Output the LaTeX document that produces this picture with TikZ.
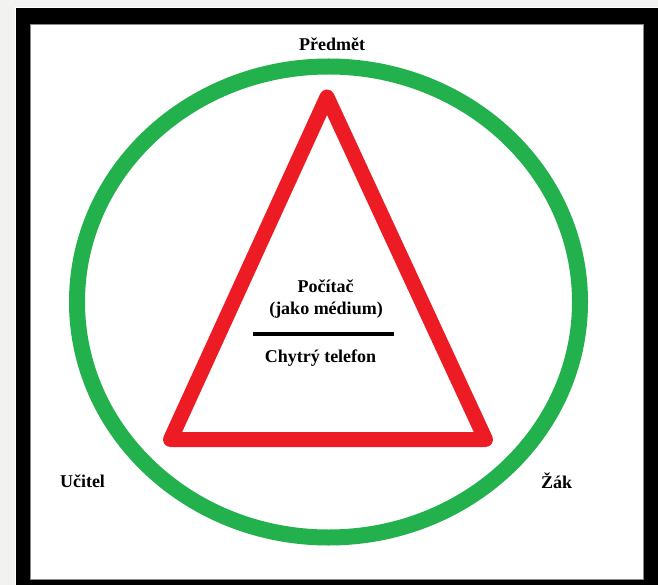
\documentclass[tikz,border=0pt]{standalone}
\usepackage{fontspec}
\setmainfont{Liberation Serif}
\usepackage{xcolor}
\usetikzlibrary{positioning, calc}
\definecolor{paintgreen}{HTML}{22B14C}
\definecolor{paintred}{HTML}{ED1C24}
\definecolor{pagegray}{HTML}{F2F2F0}
\definecolor{edgegray}{HTML}{8A8A8A}
\tikzset{
  lbl/.style={font=\bfseries\fontsize{18}{21}\selectfont, inner sep=0pt, anchor=base},
}

\begin{document}
\begin{tikzpicture}[x=1pt, y=-1pt]
    \useasboundingbox (0,0) rectangle (658,585);
    % page and black frame
    \fill[pagegray] (0,0) rectangle (658,585);
    \fill[white] (15,7) rectangle (658,585);
    \fill[black] (16,8) rectangle (658,585);
    \filldraw[fill=white, draw=edgegray, line width=1pt] (30,25) rectangle (643,579);

    % green ring
    \coordinate (ringc) at (328.5,302);
    \draw[paintgreen, line width=16pt] (ringc) ellipse [x radius=251.5pt, y radius=235.5pt];

    % red triangle
    \coordinate (apex) at (327,97);
    \coordinate (baseL) at (170.5,439.5);
    \coordinate (baseR) at (485.5,439.5);
    \draw[paintred, line width=15pt, line join=round] (apex) -- (baseL) -- (baseR) -- cycle;

    % labels
    \node[lbl] (subject) at (332,51) {Předmět};
    \node[lbl] (teacher) at (82.5,487) {Učitel};
    \node[lbl] (pupil) at (556.5,488) {Žák};

    \node[lbl] (computer) at (325.5,292) {Počítač};
    \node[lbl] (medium) at (326,314) {(jako médium)};
    \coordinate (ruleL) at (253,333.5);
    \coordinate (ruleR) at (394,333.5);
    \draw[line width=4pt] (ruleL) -- (ruleR);
    \node[lbl] (phone) at (320.5,362) {Chytrý telefon};
\end{tikzpicture}
\end{document}
